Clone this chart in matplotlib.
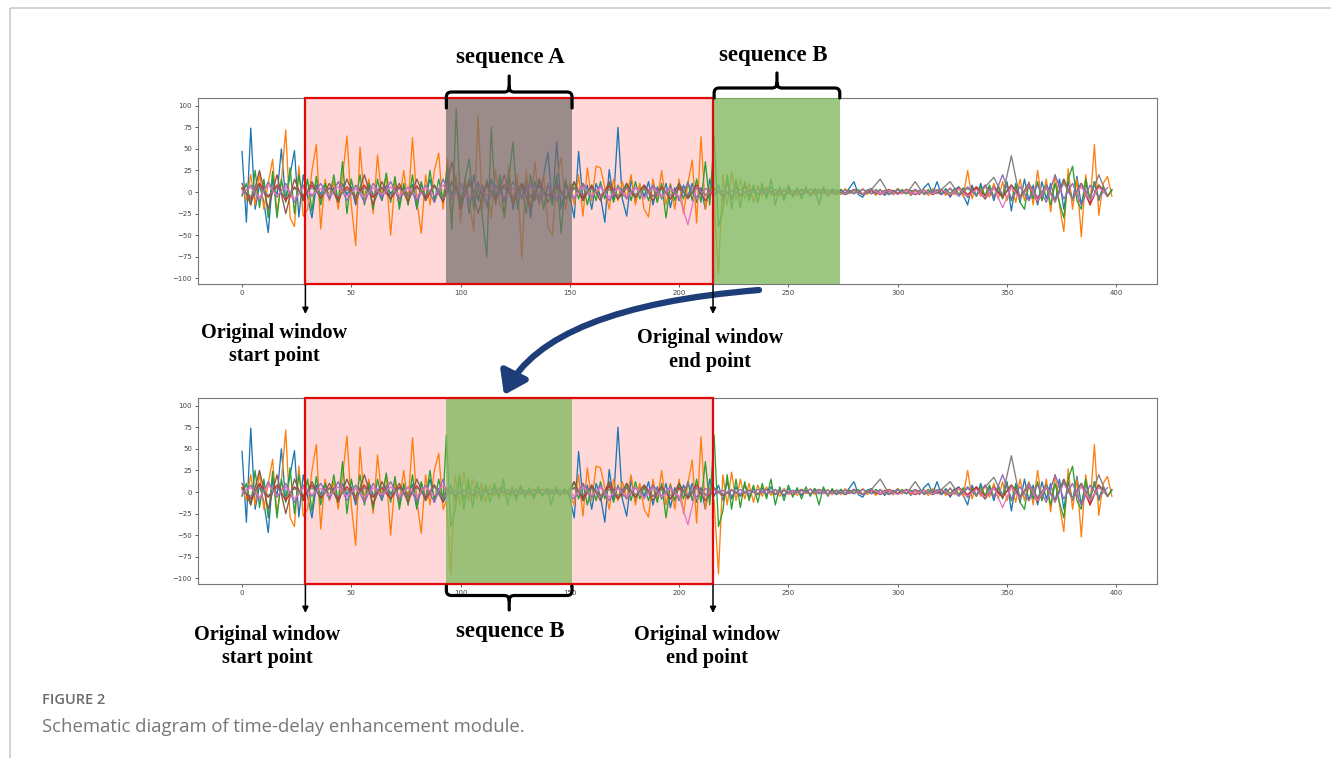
import numpy as np
import matplotlib
matplotlib.use("Agg")
import matplotlib.pyplot as plt
from matplotlib.path import Path
from matplotlib.patches import PathPatch, FancyArrowPatch, Rectangle
from matplotlib.transforms import blended_transform_factory

W, H, DPI = 1331, 758, 100

# ---------------- data ----------------
X_MAIN = np.arange(0, 400, 2)
X_MINOR = np.arange(0, 400, 4)

BLUE = [
    47, -35, 74, -20, 8, -12, -47, 15, -5, 50, -10, 20, 48, -29, 20, -5, -30, 8, -3, 10,
    -8, 5, -12, 10, -3, 6, -15, 4, -6, 12, -4, 3, -10, 8, -2, 5, -14, 6, -3, 9,
    -20, 10, -6, 15, -8, 4, -12, 20, -5, 8, -15, 12, -25, 20, -10, 8, -18, 15, -6, 10,
    -12, 18, -20, 10, -8, 15, -30, 12, -10, 20, 46, -15, 58, -20, 10, -5, -30, 47, -10, 8,
    -20, 10, -5, -35, 26, -10, 75, -8, -28, 15, -12, 8, -5, 12, -15, 6, -8, 10, -18, 5,
    -10, 8, -5, 10, -12, 5, -20, 15, -5, 8, -10, 12, -8, 6, -5, 8, -6, 4, -3, 5,
    -4, 6, -3, 2, -5, 4, -2, 3, -4, 2, -3, 4, -2, 3, -3, 2, -2, 3, -2, 5,
    12, -3, -6, 2, 4, -2, 3, -4, 2, -3, 4, -2, 3, -4, 2, -3, 5, 10, -2, 12,
    -3, 4, -6, 3, 6, -4, -15, 8, -5, 10, -8, 6, -10, 8, -6, 12, -22, 10, -12, 15,
    -10, 8, -15, 12, -8, 10, -12, 15, -20, 12, -10, 18, -15, 10, -8, 12, -10, 6, -5, 2,
]
ORANGE = [
    5, -10, 20, -15, 22, -20, 10, 38, -25, 12, 72, -30, -40, 30, -28, -20, 25, 55, -43, 15,
    -10, 12, -20, 18, 65, -15, -62, 52, -10, 15, -25, 43, -8, 20, -50, 12, -10, 25, -15, 63,
    -10, -48, 20, -15, 25, 45, -20, 38, -30, 20, -35, 15, -10, -45, 88, -20, 15, -30, 25, -15,
    -25, 30, -15, 20, -77, 25, -20, 35, -15, 20, -40, -50, 15, 40, -20, 10, -15, 20, -28, 28,
    -10, 30, 28, 5, -20, 15, -10, 12, -8, 20, -15, 10, -20, -29, 15, -10, 25, -15, 10, -20,
    15, -25, 10, 37, -36, 64, -20, 5, -10, -95, 20, -15, 23, -10, 15, -8, 10, -12, 8, -5,
    6, -4, 3, -5, 4, -3, 2, -4, 3, -2, 4, -3, 2, -2, 3, -3, 2, -3, 4, -2,
    3, -2, 4, -3, 2, -4, 3, -2, 2, -3, 4, -2, 3, -3, 2, -2, 3, -4, 4, -2,
    3, -4, 5, -3, 4, -5, 25, -8, 6, -5, 8, -6, 10, -8, 12, -10, 8, -12, 15, -10,
    12, -15, 25, -10, 15, -23, 20, -15, -46, 27, -20, 15, -52, 20, -15, 55, -27, 10, 18, -5,
]
GREEN = [
    -5, 10, -15, 25, -18, 15, -30, 24, -30, 15, -12, 28, -25, 20, -10, 15, -22, 18, -15, 10,
    -8, 20, -12, 35, -25, 15, -10, 20, -15, 10, -20, 15, -8, 22, -12, 18, -20, 10, -15, 20,
    -18, 12, -10, 25, -12, 15, -10, 30, -44, 96, -20, 15, 38, -20, 10, -30, -75, 75, -15, 20,
    -30, 15, 58, -20, 10, -25, 20, -10, 15, -20, 10, -15, 20, -48, 15, -10, 12, -8, 10, -15,
    8, -10, 12, -8, 10, -12, 8, -6, 10, -10, 12, -8, 6, -10, 8, -12, 10, -30, 8, -10,
    10, -8, 12, -10, 15, -12, 35, -15, 66, -40, -22, 20, -20, 15, -18, 12, -10, 8, -12, 10,
    -8, 15, -15, 6, -10, 8, -6, 5, -8, 6, -5, 4, -15, 6, -5, 4, -3, 3, -2, 2,
    -2, 3, -3, 2, -2, 3, -2, 2, -3, 2, -2, 3, -2, 2, -3, 2, -2, 3, -2, 2,
    -3, 3, -2, 4, -3, 5, -6, 4, -5, 6, -4, 8, -6, 5, -8, 10, -10, 8, -12, -20,
    10, -8, 12, -10, 8, -15, 10, -12, -30, 15, 30, -10, -20, 15, -10, 12, -8, 6, -5, 3,
]
RED = [
    5, -8, 10, -6, 8, -10, 6, -5, 8, -6,
    5, -7, 6, -5, 8, -6, 5, -8, 6, -5,
    7, -6, 8, -10, 12, -8, 10, -6, 8, -7,
    9, -8, 10, -6, 8, -5, 6, -7, 5, -6,
    6, -5, 7, -8, 5, -6, 8, -5, 6, -8,
    5, -6, 8, -4, 3, -4, 2, -3, 2, -2,
    3, -2, 2, -3, 2, -2, 3, -2, 2, -3,
    2, -3, 2, -2, 3, -2, 2, -3, 2, -2,
    3, -4, 5, -3, 6, -5, 4, -6, 8, -5,
    6, -8, 5, -10, 12, -8, 10, -15, 8, -5,
]
PURPLE = [
    -3, 8, -10, 12, -6, 10, -12, 8, -5, 10,
    -8, 12, -10, 8, -12, 10, -6, 12, -8, 6,
    -10, 8, -12, 15, -8, 10, -10, 12, -15, 8,
    -10, 12, -8, 10, -12, 8, -10, 6, -8, 10,
    -6, 8, -10, 6, -8, 5, -6, 8, -5, 6,
    -8, 10, -6, 4, -3, 2, -4, 3, -2, 3,
    -2, 3, -3, 2, -2, 3, -2, 2, -3, 2,
    -2, 3, -2, 2, -3, 2, -2, 3, -2, 2,
    -3, 4, -5, 6, -4, 8, -6, 20, -8, 6,
    -10, 8, -12, 20, -8, 10, -15, 8, -6, 5,
]
BROWN = [
    10, -15, 25, -20, 20, -25, 15, -10, 12, -8,
    10, -12, 15, -10, 20, -15, 12, -8, 10, -12,
    15, -10, 8, -12, 35, -20, 15, -25, 12, -10,
    20, -15, 10, -20, 15, -12, 10, -8, 12, -10,
    8, -10, 12, -8, 10, -6, 8, -10, 6, -8,
    10, -8, 6, -10, 5, -4, 3, -4, 2, -3,
    2, -3, 2, -2, 3, -2, 2, -3, 2, -2,
    3, -2, 2, -3, 2, -2, 3, -2, 2, -3,
    2, -4, 5, -6, 4, -8, 6, -5, 8, -6,
    10, -12, 8, -10, 15, -8, 10, -12, 8, -4,
]
PINK = [
    0, 5, -6, 8, -4, 6, -8, 5, -3, 4,
    -4, 6, -5, 4, -6, 5, -3, 6, -4, 5,
    -5, 6, -4, 8, -6, 5, -8, 6, -4, 5,
    -6, 5, -8, 6, -4, 5, -6, 4, -5, 6,
    -4, 5, -6, 4, -5, 6, -8, 5, -6, 4,
    -5, -38, 6, -4, 3, -2, 3, -2, 2, -2,
    2, -2, 3, -2, 2, -2, 2, -3, 2, -2,
    2, -2, 3, -2, 2, -3, 2, -2, 2, -2,
    3, -3, 4, -5, 3, -6, 5, -18, 6, -8,
    8, -10, 6, -12, 10, -8, 6, -10, 5, -3,
]
GRAY = [
    3, -5, 6, -4, 5, -6, 4, -3, 5, -4,
    4, -5, 3, -6, 5, -4, 6, -3, 4, -5,
    5, -4, 6, -8, 10, -6, 8, -5, 6, -4,
    5, -6, 4, -5, 6, -4, 5, -6, 4, -3,
    4, -5, 3, -4, 5, -3, 4, -5, 3, -4,
    3, -4, 5, -3, 4, -3, 2, -3, 2, -2,
    3, -2, 2, -3, 2, -2, 3, -2, 2, -3,
    2, -3, 3, 15, -2, 3, -2, 12, -3, 2,
    3, 12, -3, 4, -3, 6, 17, -4, 42, -8,
    10, -6, 8, -10, 12, -8, 10, -6, 20, -5,
]

SERIES = [
    (X_MAIN, BLUE, "C0"), (X_MAIN, ORANGE, "C1"), (X_MAIN, GREEN, "C2"),
    (X_MINOR, RED, "C3"), (X_MINOR, PURPLE, "C4"), (X_MINOR, BROWN, "C5"),
    (X_MINOR, PINK, "C6"), (X_MINOR, GRAY, "C7"),
]

WINDOW = (29, 215.5)      # original window start / end point
SEQ_A = (93.5, 151)       # sequence A
SEQ_B = (216, 273.5)      # sequence B
XTICKS = [0, 50, 100, 150, 200, 250, 300, 350, 400]
YTICKS = [-100, -75, -50, -25, 0, 25, 50, 75, 100]


def delayed(x, y):
    """sequence B moved into the place of sequence A."""
    x = np.asarray(x, float)
    y = np.asarray(y, float)
    before = x < SEQ_A[0]
    seg = (x >= SEQ_B[0]) & (x < SEQ_B[1])
    after = x >= SEQ_A[1]
    shift = SEQ_B[0] - SEQ_A[0]
    return (np.concatenate([x[before], x[seg] - shift, x[after]]),
            np.concatenate([y[before], y[seg], y[after]]))


# ---------------- figure ----------------
fig = plt.figure(figsize=(W / DPI, H / DPI), dpi=DPI)
fig.patch.set_facecolor("white")

AX_L, AX_W, AX_H = 0.14899, 0.72006, 0.24499
ax_top = fig.add_axes([AX_L, 0.62533, AX_W, AX_H])
ax_bot = fig.add_axes([AX_L, 0.22955, AX_W, AX_H])

PINK_FILL = "#ffd9d9"
RED_EDGE = "#e00a0a"
GRAY_OVER = "#756d6d"
GREEN_OVER = "#83b962"

for ax, moved in ((ax_top, False), (ax_bot, True)):
    ax.set_xlim(-20, 418.5)
    ax.set_ylim(-106.6, 108.6)
    ax.axvspan(*WINDOW, facecolor=PINK_FILL, edgecolor="none", zorder=0)
    for x, y, c in SERIES:
        if moved:
            x, y = delayed(x, y)
        ax.plot(x, y, color=c, lw=0.95, zorder=2)
    if moved:
        ax.axvspan(*SEQ_A, facecolor=GREEN_OVER, alpha=0.8, lw=0, zorder=3)
    else:
        ax.axvspan(*SEQ_A, facecolor=GRAY_OVER, alpha=0.72, lw=0, zorder=3)
        ax.axvspan(*SEQ_B, facecolor=GREEN_OVER, alpha=0.8, lw=0, zorder=3)
    tr = blended_transform_factory(ax.transData, ax.transAxes)
    ax.add_patch(Rectangle((WINDOW[0], 0), WINDOW[1] - WINDOW[0], 1, transform=tr,
                           fill=False, edgecolor=RED_EDGE, lw=1.6, zorder=5, clip_on=False))
    ax.set_xticks(XTICKS)
    ax.set_yticks(YTICKS)
    ax.tick_params(labelsize=5, colors="#444444", length=2.5, width=0.6, pad=2)
    for s in ax.spines.values():
        s.set_color("#777777")
        s.set_linewidth(0.8)

# ---------------- overlay (annotations in pixel coordinates) ----------------
ov = fig.add_axes([0, 0, 1, 1])
ov.set_xlim(0, W)
ov.set_ylim(0, H)
ov.axis("off")


def P(x, y):
    return (x, H - y)


def px(ax, xd):
    return ax.transData.transform((xd, 0))[0]


def brace(x0, x1, y_tip, y_bar, y_nub, r=5, lw=2.3):
    xm = (x0 + x1) / 2
    s = 1 if y_tip > y_bar else -1
    verts = [P(x0, y_tip), P(x0, y_bar + s * r), P(x0, y_bar), P(x0 + r, y_bar),
             P(xm - r, y_bar), P(xm, y_bar), P(xm, y_bar - s * r), P(xm, y_nub),
             P(xm, y_bar - s * r), P(xm, y_bar), P(xm + r, y_bar),
             P(x1 - r, y_bar), P(x1, y_bar), P(x1, y_bar + s * r), P(x1, y_tip)]
    codes = [Path.MOVETO, Path.LINETO, Path.CURVE3, Path.CURVE3,
             Path.LINETO, Path.CURVE3, Path.CURVE3, Path.LINETO,
             Path.MOVETO, Path.CURVE3, Path.CURVE3,
             Path.LINETO, Path.CURVE3, Path.CURVE3, Path.LINETO]
    ov.add_patch(PathPatch(Path(verts, codes), fill=False, edgecolor="black",
                           lw=lw, capstyle="round", joinstyle="round"))


def down_arrow(x, y0, y1):
    ov.annotate("", xy=P(x, y1), xytext=P(x, y0),
                arrowprops=dict(arrowstyle="-|>", color="black", lw=1.1,
                                mutation_scale=9, shrinkA=0, shrinkB=0))


SERIF = dict(family="Liberation Serif", weight="bold", color="black",
             ha="center", va="center")

# braces + sequence labels
brace(px(ax_top, SEQ_A[0]), px(ax_top, SEQ_A[1]), 108, 92, 76)
brace(px(ax_top, SEQ_B[0]), px(ax_top, SEQ_B[1]), 98, 88, 73)
brace(px(ax_bot, SEQ_A[0]), px(ax_bot, SEQ_A[1]), 586, 595.5, 610)
ov.text(*P(510, 58), "sequence A", fontsize=16.5, **SERIF)
ov.text(*P(773, 55), "sequence B", fontsize=16.5, **SERIF)
ov.text(*P(510, 631), "sequence B", fontsize=16.5, **SERIF)

# window arrows + labels
for ax, y0, y1, yl, xs in ((ax_top, 285, 314, (344.5, 350), (274, 710)),
                           (ax_bot, 585, 613, (646.5, 646.5), (267, 707))):
    down_arrow(px(ax, WINDOW[0]), y0, y1)
    down_arrow(px(ax, WINDOW[1]), y0, y1)
    ov.text(*P(xs[0], yl[0]), "Original window\nstart point", fontsize=14.6,
            linespacing=1.22, **SERIF)
    ov.text(*P(xs[1], yl[1]), "Original window\nend point", fontsize=14.6,
            linespacing=1.22, **SERIF)

# curved blue arrow
curve = Path([P(759, 290), P(548, 307), P(504, 395)],
             [Path.MOVETO, Path.CURVE3, Path.CURVE3])
ov.add_patch(FancyArrowPatch(path=curve,
                             arrowstyle="-|>,head_length=0.65,head_width=0.45",
                             mutation_scale=20, color="#1d3e78", lw=4.5,
                             shrinkA=0, shrinkB=0, capstyle="round"))

# page frame + caption
ov.plot(*zip(P(10, 8), P(W, 8)), color="#cccccc", lw=1.2, solid_capstyle="butt")
ov.plot(*zip(P(10, 8), P(10, H)), color="#cccccc", lw=1.2, solid_capstyle="butt")
ov.text(*P(42, 700), "FIGURE 2", family="Open Sans", weight="semibold",
        fontsize=10.5, color="#6b6b6b", ha="left", va="center")
ov.text(*P(42, 727), "Schematic diagram of time-delay enhancement module.",
        family="Open Sans", fontsize=13.3, color="#777777", ha="left", va="center")

fig.savefig("out.png", dpi=DPI)
